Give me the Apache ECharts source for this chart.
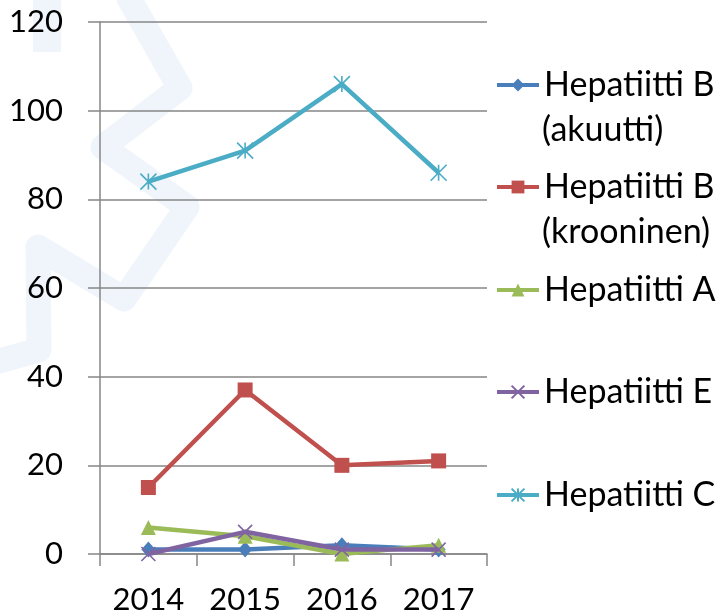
<!DOCTYPE html>
<html>
<head>
<meta charset="utf-8">
<script src="https://cdn.jsdelivr.net/npm/echarts@6/dist/echarts.min.js"></script>
<style>
html,body{margin:0;padding:0;background:#fff;}
#chart{width:718px;height:616px;}
</style>
</head>
<body>
<div id="chart"></div>
<script>
var years = ['2014', '2015', '2016', '2017'];
var seriesNames = ['Hepatiitti B (akuutti)', 'Hepatiitti B (krooninen)', 'Hepatiitti A', 'Hepatiitti E', 'Hepatiitti C'];
var legendLine1 = ['Hepatiitti B', 'Hepatiitti B', 'Hepatiitti A', 'Hepatiitti E', 'Hepatiitti C'];
var legendLine2 = ['(akuutti)', '(krooninen)', '', '', ''];
var hepBAkuutti = [1, 1, 2, 1];
var hepBKrooninen = [15, 37, 20, 21];
var hepA = [6, 4, 0, 2];
var hepE = [0, 5, 1, 1];
var hepC = [84, 91, 106, 86];
var yTicks = [0, 20, 40, 60, 80, 100, 120];

var FONT = 'Lato';
var GRAY = '#868686';
var colors = ['#4a7ebb', '#c0504d', '#9bbb59', '#8064a2', '#4bacc6'];
var symbols = ['diamond', 'rect', 'triangle',
  'path://M0,0L10,10M10,0L0,10',
  'path://M5,0L5,10M0,0L10,10M10,0L0,10'];
var symbolSizes = [[14, 16], 15, 15, 14, 16];
var values = [hepBAkuutti, hepBKrooninen, hepA, hepE, hepC];
var legendIconY = [85, 187, 290, 392, 495];

var chart = echarts.init(document.getElementById('chart'));

var series = seriesNames.map(function (name, i) {
  var stroked = i >= 3;
  return {
    name: name,
    type: 'line',
    data: values[i],
    symbol: symbols[i],
    symbolSize: symbolSizes[i],
    showAllSymbol: true,
    lineStyle: { color: colors[i], width: 4.5 },
    itemStyle: stroked ? { color: colors[i], borderColor: colors[i], borderWidth: 1.6 } : { color: colors[i] },
    emphasis: { disabled: true },
    animation: false,
    z: 3 + i
  };
});

var legends = seriesNames.map(function (name, i) {
  return {
    data: [name],
    orient: 'vertical',
    left: 495,
    top: legendIconY[i] - 22.5,
    padding: 0,
    itemGap: 0,
    itemWidth: 42,
    itemHeight: 16,
    selectedMode: false,
    lineStyle: { width: 4 },
    formatter: function () { return legendLine1[i]; },
    textStyle: { fontFamily: FONT, fontSize: 34, color: '#000', lineHeight: 45 }
  };
});

var graphics = [
  {
    type: 'polyline', z: -10, silent: true,
    shape: { points: [[-8, 363], [39, 350], [38, 247], [124, 299], [187, 207], [103, 147], [180, 88], [127, -5]] },
    style: { stroke: '#eff5fb', lineWidth: 25, fill: null, lineJoin: 'round', lineCap: 'butt' }
  },
  {
    type: 'polyline', z: -10, silent: true,
    shape: { points: [[47, -5], [47, 52]] },
    style: { stroke: '#eff5fb', lineWidth: 28, fill: null, lineCap: 'butt' }
  }
];
legendLine2.forEach(function (t, i) {
  if (t) {
    graphics.push({
      type: 'text', silent: true, z: 10,
      x: 542, y: legendIconY[i] + 45,
      style: { text: t, fontFamily: FONT, fontSize: 34, fill: '#000', verticalAlign: 'middle', align: 'left' }
    });
  }
});

var option = {
  backgroundColor: '#fff',
  animation: false,
  textStyle: { fontFamily: FONT },
  graphic: graphics,
  legend: legends,
  grid: { left: 100, top: 22, width: 387, height: 532, containLabel: false },
  xAxis: {
    type: 'category',
    data: years,
    boundaryGap: true,
    axisLine: { show: true, lineStyle: { color: GRAY, width: 1.5 } },
    axisTick: { show: true, length: 12, lineStyle: { color: GRAY, width: 1.5 } },
    axisLabel: { fontFamily: FONT, fontSize: 31, color: '#000', margin: 30 },
    splitLine: { show: false }
  },
  yAxis: {
    type: 'value',
    min: yTicks[0],
    max: yTicks[yTicks.length - 1],
    interval: yTicks[1] - yTicks[0],
    axisLine: { show: true, lineStyle: { color: GRAY, width: 1.5 } },
    axisTick: { show: true, length: 12, lineStyle: { color: GRAY, width: 1.5 } },
    axisLabel: { fontFamily: FONT, fontSize: 31, color: '#000', margin: 37 },
    splitLine: { show: true, lineStyle: { color: GRAY, width: 1.5 } }
  },
  series: series
};

chart.setOption(option);
</script>
</body>
</html>
